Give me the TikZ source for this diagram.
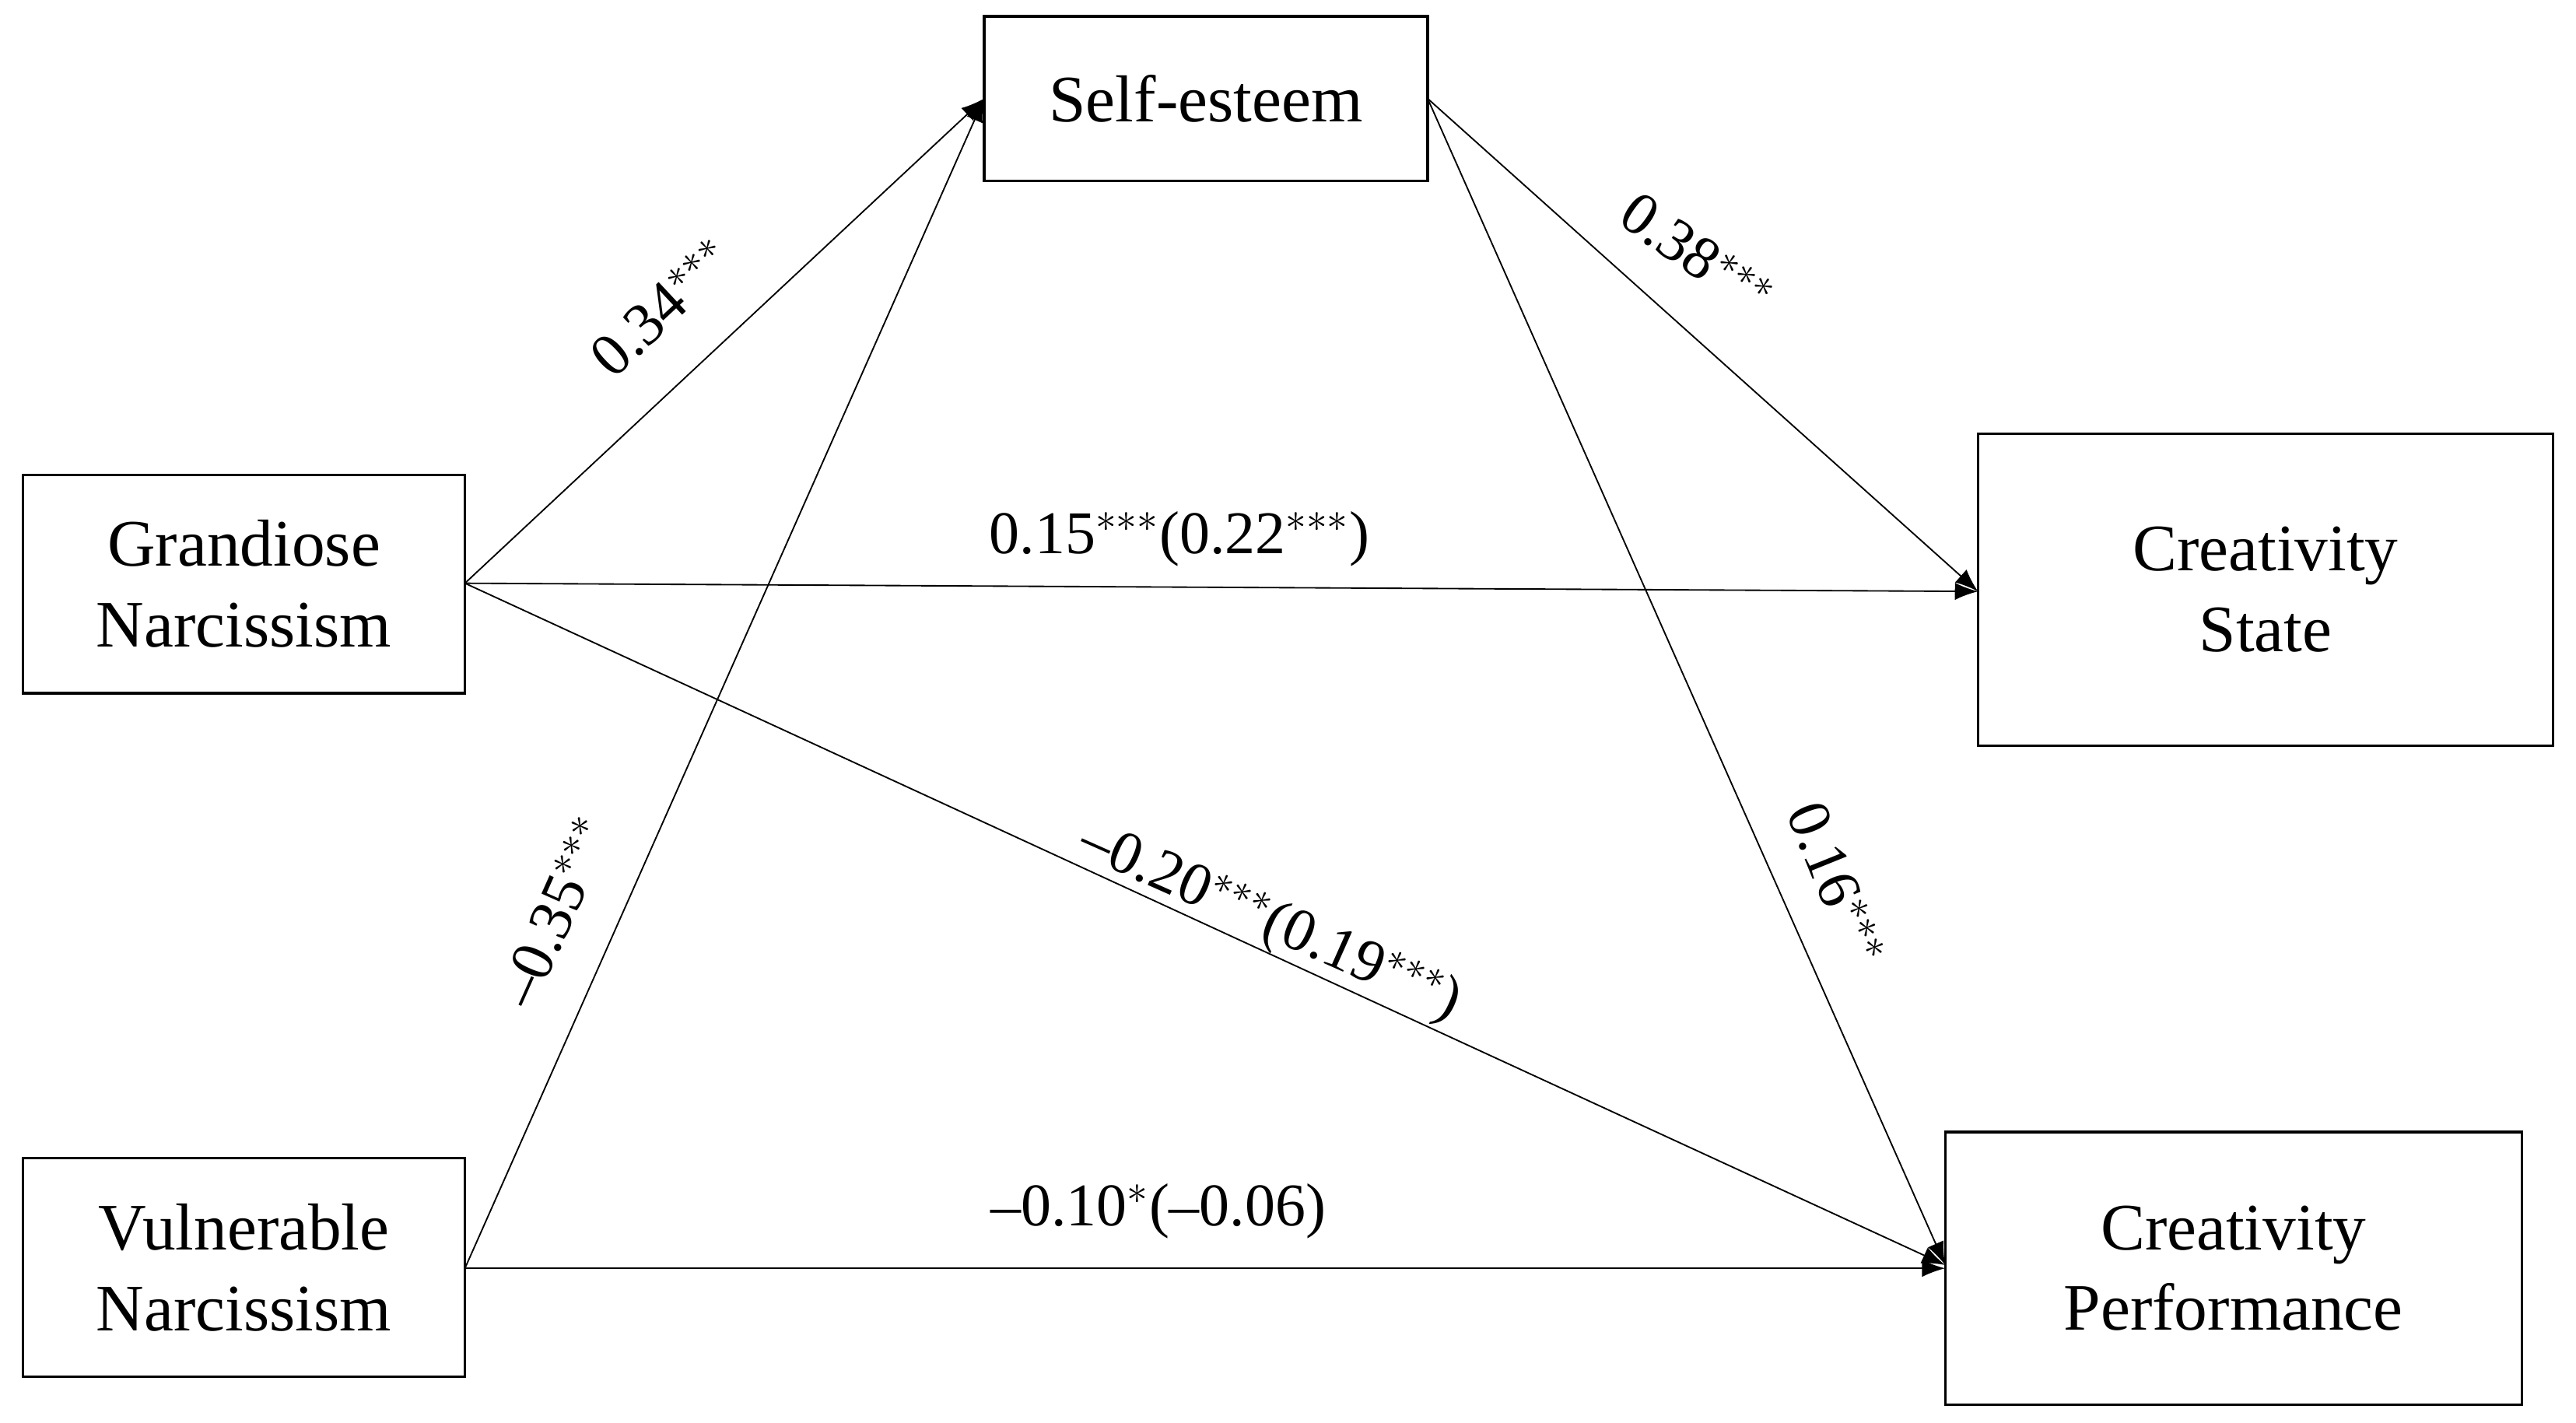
\documentclass[tikz,border=0pt]{standalone}
\usepackage{fontspec}
\setmainfont{Liberation Serif}
\usetikzlibrary{arrows.meta}
\begin{document}
\begin{tikzpicture}[x=0.02cm,y=-0.02cm,
  box/.style={draw,line width=0.9pt,align=center,font=\fontsize{23}{28}\selectfont,inner sep=0pt},
  arr/.style={line width=0.5pt,-{Latex[length=8pt,width=6pt]}},
  lab/.style={font=\fontsize{21}{24}\selectfont,inner sep=1pt}]
\useasboundingbox (0,0) rectangle (1568,866);
\node[box,minimum width=270*0.02cm,minimum height=100*0.02cm] (se) at (734,60) {Self-esteem};
\node[box,minimum width=269*0.02cm,minimum height=133*0.02cm] (gn) at (148.5,355.5) {Grandiose\\Narcissism};
\node[box,minimum width=269*0.02cm,minimum height=133*0.02cm] (vn) at (148.5,771.5) {Vulnerable\\Narcissism};
\node[box,minimum width=350*0.02cm,minimum height=190*0.02cm] (cs) at (1379,359) {Creativity\\State};
\node[box,minimum width=351*0.02cm,minimum height=166*0.02cm] (cp) at (1359.5,772) {Creativity\\Performance};
\coordinate (gout) at (283,355);
\coordinate (vout) at (283,772);
\coordinate (sein) at (599,60);
\coordinate (seout) at (869,60);
\coordinate (csin) at (1204,360);
\coordinate (cpin) at (1184,770);
\coordinate (cpin2) at (1184,772);
\draw[arr] (gout) -- (sein);
\draw[arr] (vout) -- (sein);
\draw[arr] (gout) -- (csin);
\draw[arr] (gout) -- (cpin);
\draw[arr] (vout) -- (cpin2);
\draw[arr] (seout) -- (csin);
\draw[arr] (seout) -- (cpin);
\node[lab,rotate=43] (l1) at (403,187) {0.34$^{***}$};
\node[lab,rotate=-35] (l2) at (1033,155) {0.38$^{***}$};
\node[lab] (l3) at (718,328) {0.15$^{***}$(0.22$^{***}$)};
\node[lab,rotate=66] (l4) at (338,555) {–0.35$^{***}$};
\node[lab,rotate=-24] (l5) at (773,562) {–0.20$^{***}$(0.19$^{***}$)};
\node[lab,rotate=-68] (l6) at (1118,538) {0.16$^{***}$};
\node[lab] (l7) at (705,737) {–0.10$^{*}$(–0.06)};
\end{tikzpicture}
\end{document}
